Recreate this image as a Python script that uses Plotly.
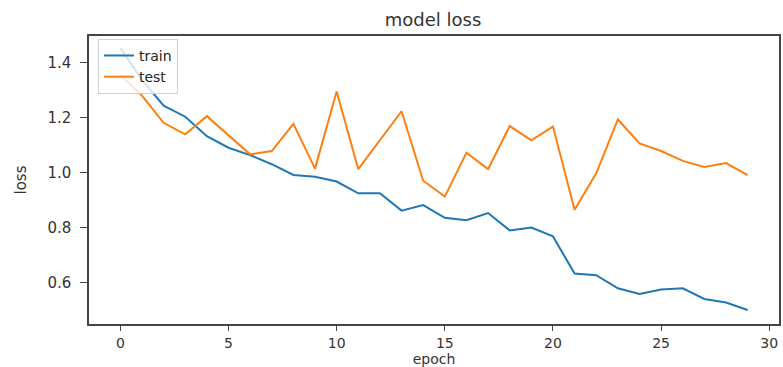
import plotly.graph_objects as go

# Training history: loss per epoch
epochs = list(range(30))
train_loss = [1.453, 1.337, 1.243, 1.203, 1.132, 1.090, 1.063, 1.030, 0.991, 0.984,
              0.967, 0.924, 0.924, 0.861, 0.881, 0.835, 0.826, 0.852, 0.789, 0.799,
              0.767, 0.632, 0.626, 0.578, 0.557, 0.574, 0.578, 0.539, 0.526, 0.499]
test_loss = [1.356, 1.280, 1.181, 1.139, 1.205, 1.136, 1.066, 1.078, 1.177, 1.014,
             1.295, 1.012, 1.117, 1.223, 0.970, 0.912, 1.072, 1.012, 1.169, 1.117,
             1.167, 0.864, 0.997, 1.193, 1.106, 1.078, 1.042, 1.020, 1.034, 0.990]
x_ticks = [0, 5, 10, 15, 20, 25, 30]
y_ticks = [0.6, 0.8, 1.0, 1.2, 1.4]

FONT = "DejaVu Sans"
AX = "#444444"

fig = go.Figure()
fig.add_trace(go.Scatter(x=epochs, y=train_loss, mode="lines", name="train",
                         line=dict(color="#1f77b4", width=2)))
fig.add_trace(go.Scatter(x=epochs, y=test_loss, mode="lines", name="test",
                         line=dict(color="#ff7f0e", width=2)))

fig.update_layout(
    width=783, height=367,
    margin=dict(l=89, r=2, t=36, b=41),
    paper_bgcolor="white", plot_bgcolor="white",
    font=dict(family=FONT, color="#333333"),
    title=dict(text="model loss", x=0.553, xanchor="center", y=0.945, yanchor="middle",
               font=dict(size=18, color="#333333")),
    showlegend=True,
    legend=dict(x=0.013, y=0.99, xanchor="left", yanchor="top",
                bgcolor="rgba(255,255,255,0.8)", bordercolor="#d0d0d0", borderwidth=1,
                font=dict(size=14, color="#222222"), tracegroupgap=0,
                itemwidth=30),
    xaxis=dict(range=[-1.45, 30.45], tickvals=x_ticks, ticks="outside", ticklen=5,
               tickcolor=AX, showline=True, linecolor=AX, linewidth=1.5, mirror=True,
               showgrid=False, zeroline=False, tickfont=dict(size=14),
               title=dict(text="epoch", font=dict(size=14), standoff=5)),
    yaxis=dict(range=[0.448, 1.497], tickvals=y_ticks, tickformat=".1f", ticks="outside",
               ticklen=7, tickcolor=AX, showline=True, linecolor=AX, linewidth=1.5,
               mirror=True, showgrid=False, zeroline=False, tickfont=dict(size=15),
               ticklabelstandoff=6,
               title=dict(text="loss", font=dict(size=15), standoff=17)),
)

fig.write_html("out.html")
